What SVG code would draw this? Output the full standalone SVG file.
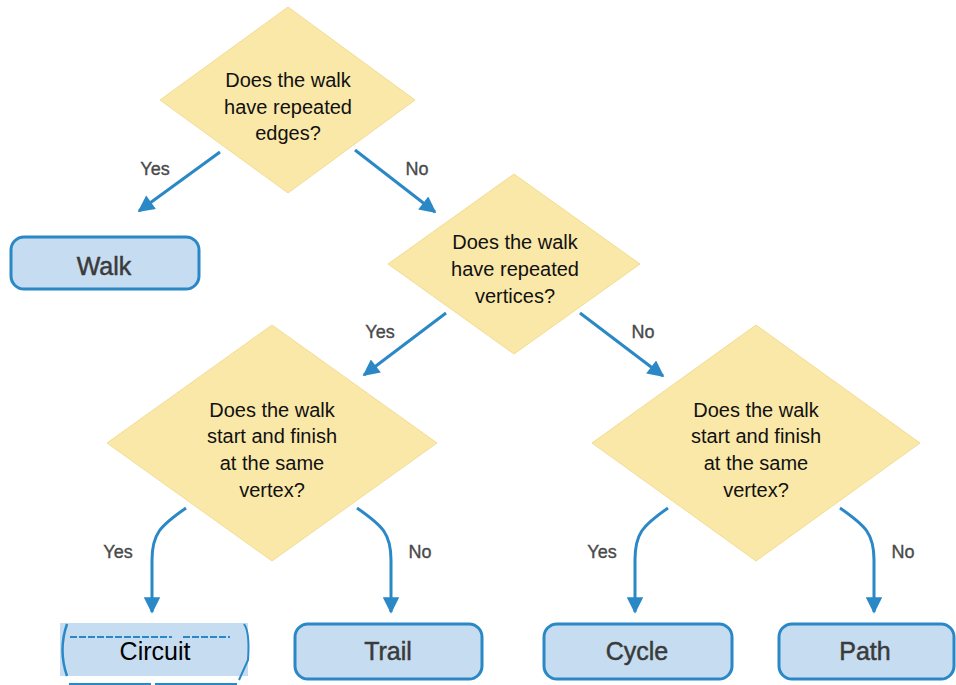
<svg xmlns="http://www.w3.org/2000/svg" width="956" height="685" viewBox="0 0 956 685">
  <style>
    .dia { fill: #fae8a8; stroke: #f3dc93; stroke-width: 1; }
    .q { font-family: "Liberation Sans", Arial, sans-serif; font-size: 20px; fill: #111; text-anchor: middle; }
    .box { fill: #c6ddf1; stroke: #2a88c6; stroke-width: 3; }
    .lbl { font-family: "Liberation Sans", Arial, sans-serif; font-size: 25px; fill: #3a3a3a; stroke: #3a3a3a; stroke-width: 0.5; text-anchor: middle; }
    .ans { font-family: "Liberation Sans", Arial, sans-serif; font-size: 18px; fill: #4a4a4a; stroke: #4a4a4a; stroke-width: 0.35; text-anchor: middle; }
    .edge { fill: none; stroke: #2a88c6; stroke-width: 3; marker-end: url(#head); }
  </style>
  <defs>
    <marker id="head" viewBox="0 0 10 10" refX="9" refY="5" markerWidth="6" markerHeight="5.5" orient="auto" markerUnits="strokeWidth">
      <path d="M0,0 L10,5 L0,10 Z" fill="#2a88c6"/>
    </marker>
  </defs>

  <rect width="956" height="685" fill="#ffffff"/>

  <!-- decision nodes -->
  <g id="q-edges">
    <polygon class="dia" points="288,7 415,100 288,193 160,100"/>
    <text class="q" x="288" y="87">Does the walk</text>
    <text class="q" x="288" y="114">have repeated</text>
    <text class="q" x="288" y="140">edges?</text>
  </g>
  <g id="q-vertices">
    <polygon class="dia" points="514,174 640,264 514,354 388,264"/>
    <text class="q" x="515" y="249">Does the walk</text>
    <text class="q" x="515" y="276">have repeated</text>
    <text class="q" x="515" y="303">vertices?</text>
  </g>
  <g id="q-closed-left">
    <polygon class="dia" points="272,325 437,443 272,561 107,443"/>
    <text class="q" x="272" y="417">Does the walk</text>
    <text class="q" x="272" y="443">start and finish</text>
    <text class="q" x="272" y="470">at the same</text>
    <text class="q" x="272" y="497">vertex?</text>
  </g>
  <g id="q-closed-right">
    <polygon class="dia" points="756,325 920,443 756,561 592,443"/>
    <text class="q" x="756" y="417">Does the walk</text>
    <text class="q" x="756" y="443">start and finish</text>
    <text class="q" x="756" y="470">at the same</text>
    <text class="q" x="756" y="497">vertex?</text>
  </g>

  <!-- result nodes -->
  <g id="walk">
    <rect class="box" x="11" y="237" width="188" height="52" rx="13"/>
    <text class="lbl" x="104" y="275">Walk</text>
  </g>
  <g id="circuit">
    <rect x="60" y="623" width="188" height="53" fill="#c6ddf1"/>
    <path d="M67,624 Q58,650 67,676" fill="none" stroke="#2a88c6" stroke-width="2.5"/>
    <path d="M244,624 Q250,632 248,660 L239,680" fill="none" stroke="#2a88c6" stroke-width="2"/>
    <line x1="70" y1="637" x2="172" y2="637" stroke="#2a88c6" stroke-width="2" stroke-dasharray="7,2"/>
    <line x1="183" y1="637" x2="230" y2="637" stroke="#2a88c6" stroke-width="2" stroke-dasharray="7,2"/>
    <line x1="69" y1="684" x2="151" y2="684" stroke="#2a88c6" stroke-width="2"/>
    <line x1="155" y1="684" x2="237" y2="684" stroke="#2a88c6" stroke-width="2"/>
    <text x="155" y="660" font-family="'Liberation Sans', Arial, sans-serif" font-size="25" fill="#000" text-anchor="middle">Circuit</text>
  </g>
  <g id="trail">
    <rect class="box" x="295" y="624" width="187" height="55" rx="13"/>
    <text class="lbl" x="388" y="660">Trail</text>
  </g>
  <g id="cycle">
    <rect class="box" x="544" y="624" width="188" height="55" rx="13"/>
    <text class="lbl" x="637" y="660">Cycle</text>
  </g>
  <g id="path">
    <rect class="box" x="779" y="624" width="175" height="55" rx="13"/>
    <text class="lbl" x="865" y="660">Path</text>
  </g>

  <!-- connectors -->
  <g id="connectors">
    <path class="edge" d="M220,152 L139,211"/>
    <path class="edge" d="M355,150 L435,212"/>
    <path class="edge" d="M446,313 L364,375"/>
    <path class="edge" d="M580,313 L663,376"/>
    <path class="edge" d="M186,508 C160,526 152,534 152,560 L152,612"/>
    <path class="edge" d="M357,508 C383,526 391,534 391,560 L391,612"/>
    <path class="edge" d="M668,508 C642,526 635,534 635,560 L635,612"/>
    <path class="edge" d="M840,508 C866,526 874,534 874,560 L874,612"/>
  </g>

  <!-- branch labels -->
  <g id="answers">
    <text class="ans" x="155" y="175">Yes</text>
    <text class="ans" x="417" y="175">No</text>
    <text class="ans" x="380" y="338">Yes</text>
    <text class="ans" x="643" y="338">No</text>
    <text class="ans" x="118" y="558">Yes</text>
    <text class="ans" x="420" y="558">No</text>
    <text class="ans" x="602" y="558">Yes</text>
    <text class="ans" x="903" y="558">No</text>
  </g>
</svg>
